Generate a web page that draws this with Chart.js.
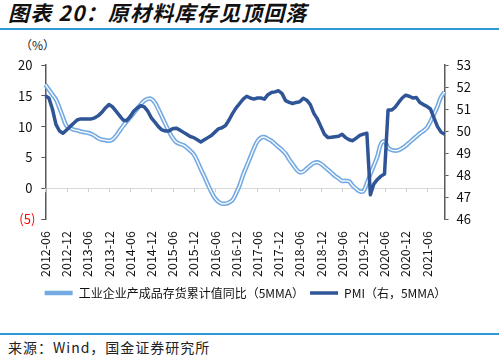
<!DOCTYPE html>
<html>
<head>
<meta charset="utf-8">
<script src="https://cdn.jsdelivr.net/npm/chart.js@4/dist/chart.umd.min.js"></script>
<style>
body{margin:0;width:499px;height:361px;background:#fff;position:relative;overflow:hidden;font-family:"Noto Sans CJK SC","Noto Sans",sans-serif;}
.title{position:absolute;left:8px;top:0;font-size:21px;line-height:25px;letter-spacing:1.2px;font-weight:bold;font-style:italic;color:#111;}
.line{position:absolute;left:0;width:499px;height:1.5px;background:#2b9ad6;}
.unit{position:absolute;left:20px;top:36px;font-size:12px;color:#222;}
.src{position:absolute;left:8px;top:337px;font-size:14px;letter-spacing:1px;color:#222;}
#c{position:absolute;left:0;top:30px;}
</style>
</head>
<body>
<div class="title">图表 20：原材料库存见顶回落</div>
<div class="line" style="top:28px"></div>
<div class="unit">（%）</div>
<canvas id="c" width="499" height="300"></canvas>
<div class="line" style="top:333px"></div>
<div class="src">来源：Wind，国金证券研究所</div>
<script>
// x axis labels shown every 6 months
const tickLabels = ['2012-06','2012-12','2013-06','2013-12','2014-06','2014-12','2015-06','2015-12',
  '2016-06','2016-12','2017-06','2017-12','2018-06','2018-12','2019-06','2019-12','2020-06','2020-12','2021-06'];

// 工业企业产成品存货累计值同比 5MMA (%), 2012-06 .. 2021-11
const inventory = [
  16.8,16.0,15.2,14.4,13.0,11.5,10.1,9.8,9.5,9.4,9.2,9.1,
  9.0,8.8,8.5,8.1,7.9,7.8,7.7,7.9,8.5,9.3,10.1,10.8,
  11.5,12.2,12.9,13.6,14.2,14.5,14.5,13.9,12.8,11.6,10.4,9.2,
  8.2,7.5,7.2,7.0,6.6,6.1,5.5,4.4,3.1,1.9,0.6,-0.6,
  -1.6,-2.2,-2.5,-2.5,-2.3,-1.9,-0.8,0.5,2.2,3.6,5.0,6.4,
  7.6,8.2,8.3,8.0,7.7,7.2,6.7,6.2,5.6,4.7,3.9,3.1,
  2.6,2.7,3.2,3.7,4.1,4.2,3.95,3.5,3.0,2.5,2.0,1.6,
  1.2,1.2,1.1,0.4,-0.1,-0.5,-0.5,0.8,2.3,3.7,5.2,7.2,
  7.6,6.6,6.2,6.1,6.2,6.5,6.9,7.4,7.9,8.4,8.9,9.3,
  9.8,10.8,12.0,13.3,14.8,15.6
];

// PMI 5MMA (right axis)
const pmi = [
  51.6,51.5,51.0,50.3,50.0,49.9,50.05,50.2,50.35,50.5,50.55,50.55,
  50.55,50.55,50.6,50.7,50.85,51.05,51.2,51.1,50.9,50.7,50.5,50.47,
  50.65,50.9,51.05,51.15,51.1,50.9,50.6,50.4,50.2,50.05,50.0,50.0,
  50.1,50.13,50.05,49.95,49.85,49.75,49.7,49.6,49.5,49.6,49.7,49.8,
  49.95,50.1,50.15,50.25,50.5,50.8,51.05,51.25,51.45,51.58,51.5,51.45,
  51.5,51.5,51.45,51.65,51.75,51.78,51.83,51.7,51.38,51.3,51.25,51.3,
  51.33,51.49,51.4,51.2,50.8,50.55,50.2,49.85,49.7,49.72,49.74,49.76,
  49.85,49.7,49.6,49.56,49.68,49.8,49.86,49.9,47.1,47.6,47.8,47.95,
  48.05,50.95,50.95,51.08,51.3,51.5,51.63,51.58,51.5,51.52,51.3,51.2,
  51.12,51.0,50.6,50.2,49.95,49.85
];

const months = [];
for (let y = 2012, m = 6; months.length < inventory.length; m++) {
  if (m > 12) { m = 1; y++; }
  months.push(y + '-' + (m < 10 ? '0' + m : m));
}

const lightBlue = '#74a9e1';
const darkBlue = '#2f5597';
const axisColor = '#595959';
const font = "'Noto Sans CJK SC','Noto Sans',sans-serif";

// small tick marks sitting on the zero line
const zeroTicks = {
  id: 'zeroTicks',
  beforeDatasetsDraw(chart) {
    const x = chart.scales.x, y = chart.scales.y;
    const y0 = y.getPixelForValue(0);
    const ctx = chart.ctx;
    ctx.save();
    ctx.strokeStyle = '#d0d0d0';
    ctx.lineWidth = 1;
    months.forEach((m, i) => {
      if (tickLabels.indexOf(m) < 0) return;
      const px = Math.round(x.getPixelForValue(i)) + 0.5;
      ctx.beginPath();
      ctx.moveTo(px, y0);
      ctx.lineTo(px, y0 + 4);
      ctx.stroke();
    });
    ctx.restore();
  }
};

function create_graph(canvas){
  new Chart(canvas, {
    type: 'line',
    data: {
      labels: months,
      datasets: [{
        label: '工业企业产成品存货累计值同比（5MMA）',
        data: inventory,
        yAxisID: 'y',
        borderColor: lightBlue,
        backgroundColor: lightBlue,
        borderWidth: 4.5,
        tension: 0.4,
        pointRadius: 0,
        order: 3
      }, {
        label: 'inner',
        data: inventory,
        yAxisID: 'y',
        borderColor: '#ffffff',
        borderWidth: 1.3,
        tension: 0.4,
        pointRadius: 0,
        order: 2
      }, {
        label: 'PMI（右，5MMA）',
        data: pmi,
        yAxisID: 'y1',
        borderColor: darkBlue,
        backgroundColor: darkBlue,
        borderWidth: 3.5,
        borderJoinStyle: 'round',
        tension: 0,
        pointRadius: 0,
        order: 1
      }]
    },
    options: {
      responsive: false,
      animation: false,
      layout: { padding: { left: 12, right: 20, top: 35, bottom: 21 } },
      plugins: {
        tooltip: { enabled: false },
        legend: {
          position: 'bottom',
          labels: {
            usePointStyle: true,
            pointStyle: 'line',
            pointStyleWidth: 28,
            padding: 6,
            color: '#111',
            font: { family: font, size: 12 },
            filter: (item) => item.text !== 'inner',
            sort: (a, b) => a.datasetIndex - b.datasetIndex
          }
        }
      },
      scales: {
        x: {
          border: { display: false },
          grid: { display: false },
          ticks: {
            autoSkip: false,
            maxRotation: 90,
            minRotation: 90,
            padding: 4,
            color: '#111',
            font: { family: font, size: 12.5 },
            callback: function(v, i){
              const lab = months[i];
              return tickLabels.indexOf(lab) >= 0 ? lab : null;
            }
          }
        },
        y: {
          position: 'left',
          min: -5,
          max: 20,
          border: { color: axisColor, width: 1.5 },
          grid: {
            color: (c) => c.tick && c.tick.value === 0 ? '#d9d9d9' : 'rgba(0,0,0,0)',
            tickColor: axisColor,
            tickLength: 4
          },
          ticks: {
            stepSize: 5,
            padding: 6,
            font: { family: font, size: 13 },
            color: (c) => c.tick.value < 0 ? '#ff0000' : '#111',
            callback: (v) => v < 0 ? '(' + (-v) + ')' : v + ' '
          }
        },
        y1: {
          position: 'right',
          min: 46,
          max: 53,
          border: { color: axisColor, width: 1.5 },
          grid: { drawOnChartArea: false, tickColor: axisColor, tickLength: 4 },
          ticks: {
            stepSize: 1,
            padding: 8,
            color: '#111',
            font: { family: font, size: 13 }
          }
        }
      }
    },
    plugins: [zeroTicks]
  });
}

create_graph(document.getElementById('c'));
</script>
</body>
</html>
